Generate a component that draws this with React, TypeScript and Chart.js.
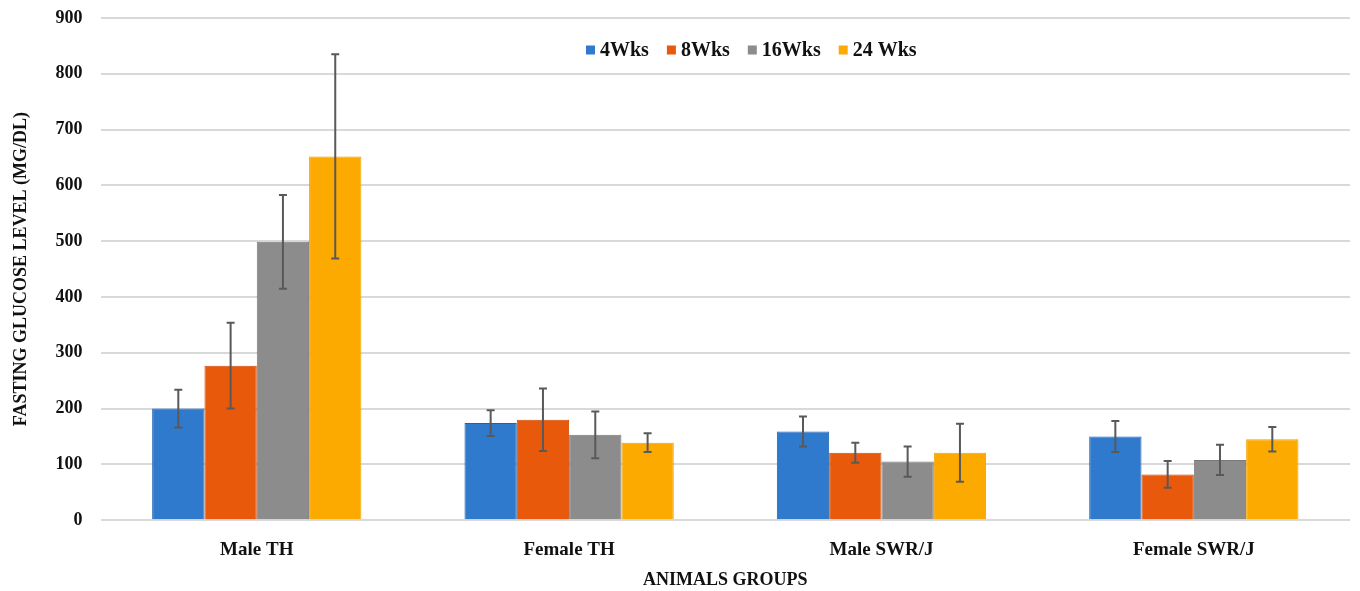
import React, { useEffect, useRef } from "react";
import { Chart, registerables } from "chart.js";

Chart.register(...registerables);

const categories = ["Male TH", "Female TH", "Male SWR/J", "Female SWR/J"];
const seriesLabels = ["4Wks", "8Wks", "16Wks", "24 Wks"];
const wk4 = [200, 174, 159, 150];
const wk8 = [277, 180, 121, 82];
const wk16 = [499, 153, 105, 108];
const wk24 = [652, 139, 121, 145];
const wk4Err = [34, 23, 27, 28];
const wk8Err = [77, 56, 18, 24];
const wk16Err = [84, 42, 27, 27];
const wk24Err = [183, 17, 52, 22];
const yTicks = [0, 100, 200, 300, 400, 500, 600, 700, 800, 900];

const fills = ["#2F7ACC", "#E8590C", "#8C8C8C", "#FDAA00"];
const edges = ["#1F63B0", "#D04A05", "#7A7A7A", "#F0A000"];

const FONT = "'Liberation Serif', 'Times New Roman', serif";

const errorBarPlugin = {
  id: "errorBars",
  afterDatasetsDraw(chart: any) {
    const ctx = chart.ctx;
    const yScale = chart.scales.y;
    chart.data.datasets.forEach((ds: any, i: number) => {
      const meta = chart.getDatasetMeta(i);
      const errs = ds.errors as number[];
      meta.data.forEach((bar: any, j: number) => {
        const v = ds.data[j];
        const e = errs[j];
        const x = bar.x;
        const yT = yScale.getPixelForValue(v + e);
        const yB = yScale.getPixelForValue(v - e);
        ctx.save();
        ctx.strokeStyle = "#595959";
        ctx.lineWidth = 2;
        ctx.beginPath();
        ctx.moveTo(x, yT);
        ctx.lineTo(x, yB);
        ctx.moveTo(x - 4, yT);
        ctx.lineTo(x + 4, yT);
        ctx.moveTo(x - 4, yB);
        ctx.lineTo(x + 4, yB);
        ctx.stroke();
        ctx.restore();
      });
    });
  },
};

const legendPlugin = {
  id: "customLegend",
  afterDraw(chart: any) {
    const ctx = chart.ctx;
    const area = chart.chartArea;
    ctx.save();
    ctx.font = `bold 20px ${FONT}`;
    ctx.textBaseline = "middle";
    const box = 9;
    const gapBoxText = 5;
    const gapItems = 18;
    const items = chart.data.datasets.map((ds: any) => ({
      label: ds.label,
      color: ds.backgroundColor,
      w: ctx.measureText(ds.label).width,
    }));
    const total =
      items.reduce((s: number, it: any) => s + box + gapBoxText + it.w, 0) +
      gapItems * (items.length - 1);
    const cx = (area.left + area.right) / 2 + 26;
    let x = cx - total / 2;
    const y = area.top + 32;
    items.forEach((it: any) => {
      ctx.fillStyle = it.color;
      ctx.fillRect(x, y - box / 2, box, box);
      x += box + gapBoxText;
      ctx.fillStyle = "#111";
      ctx.fillText(it.label, x, y + 1);
      x += it.w + gapItems;
    });
    ctx.restore();
  },
};

export default function App() {
  const ref = useRef<HTMLCanvasElement | null>(null);
  useEffect(() => {
    if (!ref.current) return;
    const series = [wk4, wk8, wk16, wk24];
    const errs = [wk4Err, wk8Err, wk16Err, wk24Err];
    const chart = new Chart(ref.current, {
      type: "bar",
      data: {
        labels: categories,
        datasets: series.map((d, i) => ({
          label: seriesLabels[i],
          data: d,
          errors: errs[i],
          backgroundColor: fills[i],
          borderColor: edges[i],
          borderWidth: 1,
          categoryPercentage: 0.67,
          barPercentage: 1.0,
        })) as any,
      },
      options: {
        responsive: false,
        animation: false,
        layout: { padding: { top: 18, right: 10, left: 11, bottom: 2 } },
        plugins: {
          legend: { display: false },
          tooltip: { enabled: false },
        },
        scales: {
          x: {
            grid: { display: false },
            border: { display: false },
            ticks: {
              color: "#111",
              font: { family: FONT, size: 19, weight: "bold" },
              padding: 10,
            },
            title: {
              display: true,
              text: "ANIMALS GROUPS",
              color: "#111",
              font: { family: FONT, size: 18, weight: "bold", lineHeight: 1.0 },
              padding: { top: 0, bottom: 0 },
            },
          },
          y: {
            min: 0,
            max: 900,
            afterBuildTicks: (axis: any) => {
              axis.ticks = yTicks.map((v) => ({ value: v }));
            },
            grid: {
              color: "#D9D9D9",
              lineWidth: 2,
              drawTicks: true,
              tickLength: 18,
              tickColor: "rgba(0,0,0,0)",
            },
            border: { display: false },
            ticks: {
              color: "#111",
              font: { family: FONT, size: 18, weight: "bold" },
              padding: 0,
            },
            title: {
              display: true,
              text: "FASTING GLUCOSE LEVEL (MG/DL)",
              color: "#111",
              font: { family: FONT, size: 18, weight: "bold" },
              padding: { top: 0, bottom: 23 },
            },
          },
        },
      },
      plugins: [errorBarPlugin, legendPlugin],
    });
    return () => chart.destroy();
  }, []);
  return (
    <div style={{ position: "absolute", left: 0, top: 0, width: 1360, height: 591, background: "#fff" }}>
      <canvas ref={ref} width={1360} height={591} />
    </div>
  );
}
